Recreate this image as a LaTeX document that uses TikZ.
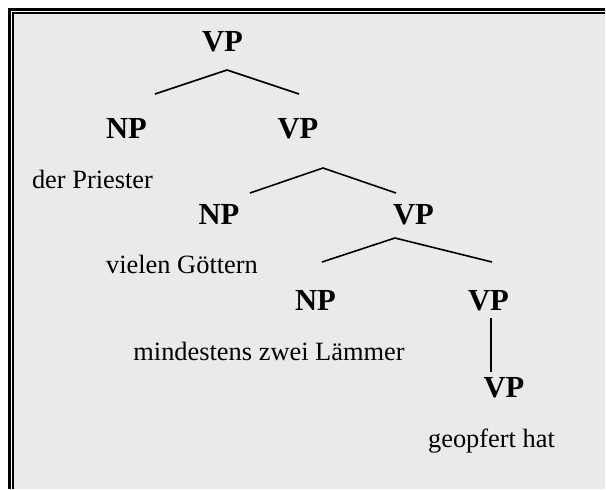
\documentclass[tikz,border=0pt]{standalone}
\usepackage{fontspec}
\setmainfont{Liberation Serif}
\usetikzlibrary{positioning}
\definecolor{panel}{HTML}{EAEAEA}

\begin{document}
\begin{tikzpicture}[x=0.5pt,y=-0.5pt,
    cat/.style={font=\fontsize{15.3}{18}\selectfont\bfseries,inner sep=0pt,anchor=base},
    words/.style={font=\fontsize{13.2}{16}\selectfont,inner sep=0pt,anchor=base},
    branch/.style={line width=0.8pt}]
    \useasboundingbox (0,0) rectangle (606,489);
    % frame
    \fill[panel] (13,13) rectangle (605,489);
    \draw[line width=1.5pt] (9.5,489) -- (9.5,9.5) -- (605,9.5);
    \draw[line width=1pt]   (13,489) -- (13,13) -- (605,13);

    \node[cat]   (vp1) at (222.5,51) {VP};
    \node[cat]   (np1) at (126.5,138) {NP};
    \node[cat]   (vp2) at (298,138)   {VP};
    \node[words] (w1)  at (92.5,188)  {der Priester};
    \node[cat]   (np2) at (219,224)   {NP};
    \node[cat]   (vp3) at (413.5,224) {VP};
    \node[words] (w2)  at (182,273)   {vielen Göttern};
    \node[cat]   (np3) at (315.5,310) {NP};
    \node[cat]   (vp4) at (488.5,310) {VP};
    \node[words] (w3)  at (269,360)   {mindestens zwei Lämmer};
    \node[cat]   (vp5) at (504,397)   {VP};
    \node[words] (w4)  at (491.5,447) {geopfert hat};

    % branch points
    \coordinate (top1) at (227,70);
    \coordinate (lft1) at (155,94);
    \coordinate (rgt1) at (299,94);
    \coordinate (top2) at (323,168);
    \coordinate (lft2) at (250,193);
    \coordinate (rgt2) at (396,193);
    \coordinate (top3) at (395,238);
    \coordinate (lft3) at (322,262);
    \coordinate (rgt3) at (492,262);
    \coordinate (up4)  at (491,318);
    \coordinate (dn4)  at (491,372);

    \draw[branch] (lft1) -- (top1) -- (rgt1);
    \draw[branch] (lft2) -- (top2) -- (rgt2);
    \draw[branch] (lft3) -- (top3) -- (rgt3);
    \draw[branch] (up4) -- (dn4);
\end{tikzpicture}
\end{document}
